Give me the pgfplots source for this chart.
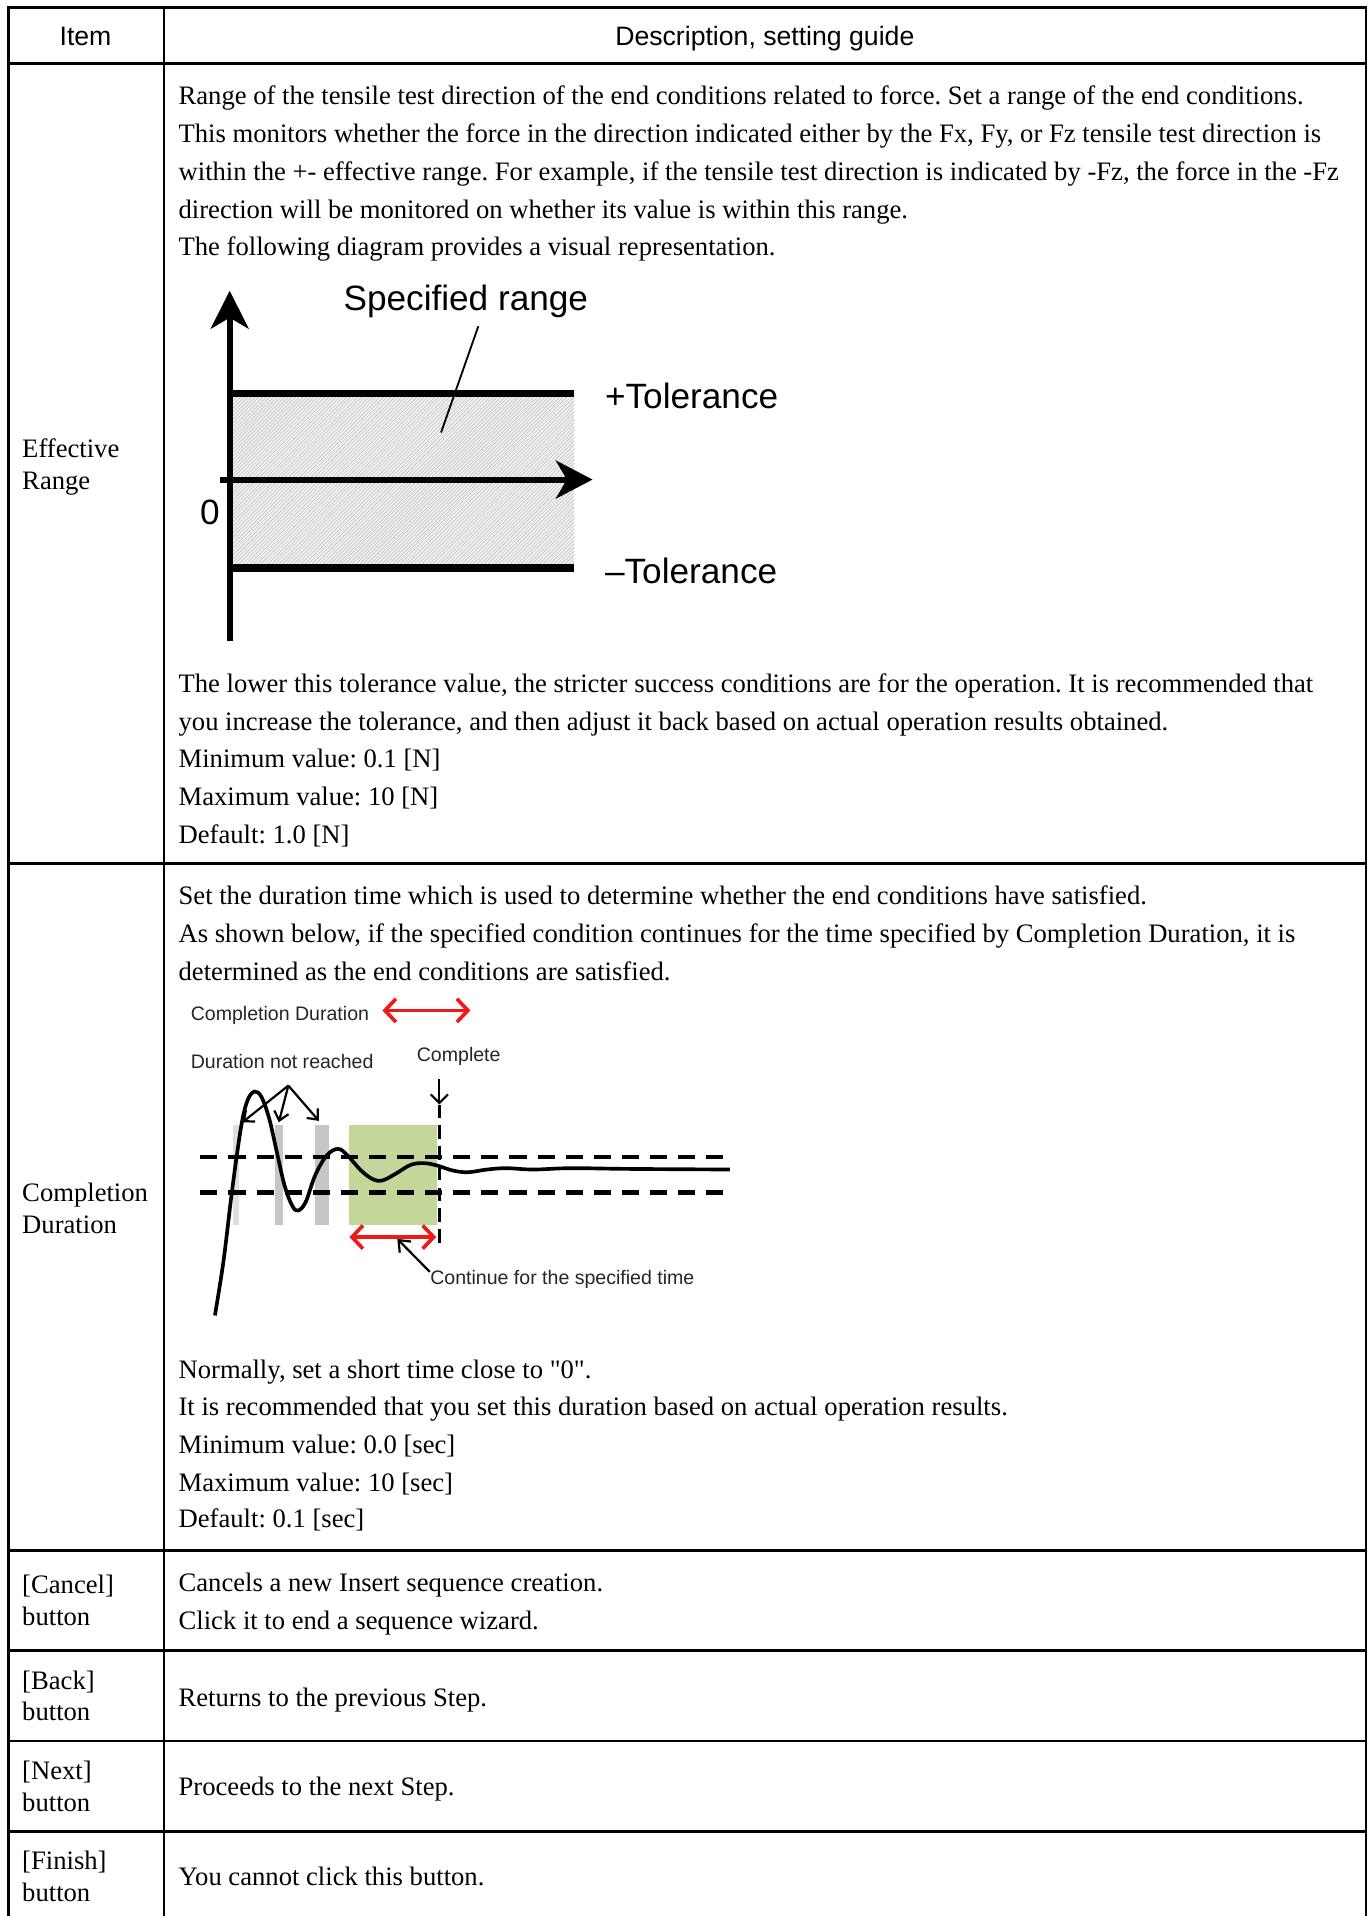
\documentclass[border=0pt]{standalone}
\usepackage{fontspec}
\setmainfont{Liberation Serif}[Ligatures=TeXOff]
\newfontfamily\arial{Liberation Sans}
\usepackage{pgfplots}
\pgfplotsset{compat=1.18}
\usetikzlibrary{arrows.meta,patterns}

\definecolor{boxgreen}{RGB}{196,215,155}
\definecolor{arrred}{RGB}{240,25,25}
\newcommand\body{\fontsize{21.8}{26}\selectfont}
\newcommand\head{\arial\fontsize{21.8}{26}\selectfont}
\newcommand\dlab{\arial\fontsize{28.8}{32}\selectfont}
\newcommand\slab{\arial\fontsize{16}{19}\selectfont}
% one line of table text, baseline at (x,y) in pixel units
\newcommand\tl[3]{\node[anchor=base west,inner sep=0pt,font=\body,yshift=-2.5pt] at (axis cs:#1,#2) {#3};}

\begin{document}
\frenchspacing
\begin{tikzpicture}
\begin{axis}[x=1pt,y=1pt,y dir=reverse,
  xmin=0,xmax=1121,ymin=0,ymax=1568,
  hide axis,scale only axis,clip=false]

% page background
\addplot[fill=white,draw=none] coordinates {(0,0)(1121,0)(1121,1568)(0,1568)};

% ---- table grid
\addplot[line width=2pt] coordinates {(6,6)(1119,6)};
\addplot[line width=2pt] coordinates {(7,6)(7,1568)};
\addplot[line width=2pt] coordinates {(1118,6)(1118,1568)};
\addplot[line width=2pt] coordinates {(134,6)(134,1568)};
\addplot[line width=2.3pt] coordinates {(6,52)(1119,52)};
\addplot[line width=2.3pt] coordinates {(6,707)(1119,707)};
\addplot[line width=2.3pt] coordinates {(6,1269)(1119,1269)};
\addplot[line width=2.3pt] coordinates {(6,1351)(1119,1351)};
\addplot[line width=2.3pt] coordinates {(6,1425)(1119,1425)};
\addplot[line width=2.3pt] coordinates {(6,1499)(1119,1499)};

% ---- header
\node[anchor=base,inner sep=0pt,font=\head] at (axis cs:70,37.5) {Item};
\node[anchor=base,inner sep=0pt,font=\head] at (axis cs:626,37.5) {Description, setting guide};

% ---- row 1: Effective Range
\tl{18}{372}{Effective}
\tl{18}{398}{Range}
\tl{146}{83}{Range of the tensile test direction of the end conditions related to force. Set a range of the end conditions.}
\tl{146}{114}{This monitors whether the force in the direction indicated either by the Fx, Fy, or Fz tensile test direction is}
\tl{146}{145}{within the +- effective range. For example, if the tensile test direction is indicated by -Fz, the force in the -Fz}
\tl{146}{176}{direction will be monitored on whether its value is within this range.}
\tl{146}{207}{The following diagram provides a visual representation.}
\tl{146}{564}{The lower this tolerance value, the stricter success conditions are for the operation. It is recommended that}
\tl{146}{595}{you increase the tolerance, and then adjust it back based on actual operation results obtained.}
\tl{146}{626}{Minimum value: 0.1 [N]}
\tl{146}{657}{Maximum value: 10 [N]}
\tl{146}{688}{Default: 1.0 [N]}

% diagram 1: tolerance band
\addplot[fill=gray!10,draw=none] coordinates {(190,322)(470,322)(470,465)(190,465)};
\addplot[pattern=north east lines,pattern color=gray!55,draw=none] coordinates {(190,322)(470,322)(470,465)(190,465)};
\addplot[line width=6pt] coordinates {(188,322)(470,322)};
\addplot[line width=6pt] coordinates {(188,465)(470,465)};
\addplot[line width=5pt,-{Stealth[length=31pt,width=31pt,inset=9pt]}] coordinates {(188,525)(188,238)};
\addplot[line width=5pt,-{Stealth[length=30pt,width=31pt,inset=9pt]}] coordinates {(180,392.5)(485,392.5)};
\addplot[line width=1.5pt] coordinates {(391.5,267)(361,354)};
\node[anchor=base west,inner sep=0pt,font=\dlab] at (axis cs:281,254.5) {Specified range};
\node[anchor=base west,inner sep=0pt,font=\dlab] at (axis cs:495,334.5) {+Tolerance};
\node[anchor=base west,inner sep=0pt,font=\dlab] at (axis cs:495,477.5) {–Tolerance};
\node[anchor=base west,inner sep=0pt,font=\dlab] at (axis cs:163.5,429) {0};

% ---- row 2: Completion Duration
\tl{18}{981}{Completion}
\tl{18}{1007}{Duration}
\tl{146}{738}{Set the duration time which is used to determine whether the end conditions have satisfied.}
\tl{146}{769}{As shown below, if the specified condition continues for the time specified by Completion Duration, it is}
\tl{146}{800}{determined as the end conditions are satisfied.}
\tl{146}{1126}{Normally, set a short time close to "0".}
\tl{146}{1156}{It is recommended that you set this duration based on actual operation results.}
\tl{146}{1187}{Minimum value: 0.0 [sec]}
\tl{146}{1218}{Maximum value: 10 [sec]}
\tl{146}{1248}{Default: 0.1 [sec]}

% diagram 2: settling signal
\addplot[fill=gray!25,draw=none] coordinates {(191,921)(196,921)(196,1003)(191,1003)};
\addplot[fill=gray!45,draw=none] coordinates {(225,921)(232,921)(232,1003)(225,1003)};
\addplot[fill=gray!45,draw=none] coordinates {(257.5,921)(269.5,921)(269.5,1003)(257.5,1003)};
\addplot[fill=boxgreen,draw=none] coordinates {(286,921)(358,921)(358,1003)(286,1003)};
\addplot[line width=3.5pt,dash pattern=on 14pt off 9pt] coordinates {(164,947)(599,947)};
\addplot[line width=3.5pt,dash pattern=on 14pt off 9pt] coordinates {(164,976)(599,976)};
\addplot[line width=3pt,dash pattern=on 11pt off 6pt] coordinates {(359.6,904)(359.6,1020)};
\addplot[line width=3pt,smooth,tension=0.6] coordinates {
  (175.9,1076.6)(182.8,1033)(189.1,981.2)(193.8,945.8)(198.5,915.8)
  (203.1,899.4)(208.5,893.4)(214.1,898)(220.4,915.8)(226.6,943)
  (232.9,970.3)(239.1,986.7)(243.8,990.8)(250.1,984)(257.9,962.1)
  (267.3,945.8)(276.7,940.3)(284.5,945.8)(295.5,958)(304.8,964.9)
  (312.7,966.2)(323.6,960.8)(336.1,953.4)(347.1,952)(358,954)
  (370.5,958)(383.1,959.4)(398.7,957.2)(414.4,956.1)(436.3,957.2)
  (467.5,956.1)(514.5,956.7)(597.4,957.2)};
\addplot[arrred,line width=3pt,{Straight Barb[length=9pt,width=19pt]}-{Straight Barb[length=9pt,width=19pt]}] coordinates {(313,827)(385,827)};
\addplot[arrred,line width=3pt,{Straight Barb[length=9pt,width=19pt]}-{Straight Barb[length=9pt,width=19pt]}] coordinates {(286,1012.5)(357,1012.5)};
\addplot[line width=1.8pt,-{Straight Barb[length=7pt,width=14pt]}] coordinates {(359.6,883)(359.6,904)};
\addplot[line width=1.8pt,-{Straight Barb[length=7pt,width=12pt]}] coordinates {(236,888.5)(198.5,918.5)};
\addplot[line width=1.8pt,-{Straight Barb[length=7pt,width=12pt]}] coordinates {(236,888.5)(228.2,918.5)};
\addplot[line width=1.8pt,-{Straight Barb[length=7pt,width=12pt]}] coordinates {(236,888.5)(261,917.4)};
\addplot[line width=1.8pt,-{Straight Barb[length=8pt,width=13pt]}] coordinates {(351.8,1041)(325.2,1014)};
\node[anchor=base west,inner sep=0pt,font=\slab,text=black!85] at (axis cs:156,835.5) {Completion Duration};
\node[anchor=base west,inner sep=0pt,font=\slab,text=black!85] at (axis cs:156,874.5) {Duration not reached};
\node[anchor=base west,inner sep=0pt,font=\slab,text=black!85] at (axis cs:341,869) {Complete};
\node[anchor=base west,inner sep=0pt,font=\slab,text=black!85] at (axis cs:352,1051) {Continue for the specified time};

% ---- rows 3-6: buttons
\tl{18}{1302}{[Cancel]}
\tl{18}{1328}{button}
\tl{146}{1300}{Cancels a new Insert sequence creation.}
\tl{146}{1331}{Click it to end a sequence wizard.}
\tl{18}{1380}{[Back]}
\tl{18}{1406}{button}
\tl{146}{1394}{Returns to the previous Step.}
\tl{18}{1454}{[Next]}
\tl{18}{1480}{button}
\tl{146}{1467}{Proceeds to the next Step.}
\tl{18}{1528}{[Finish]}
\tl{18}{1554}{button}
\tl{146}{1541}{You cannot click this button.}

\end{axis}
\end{tikzpicture}
\end{document}
